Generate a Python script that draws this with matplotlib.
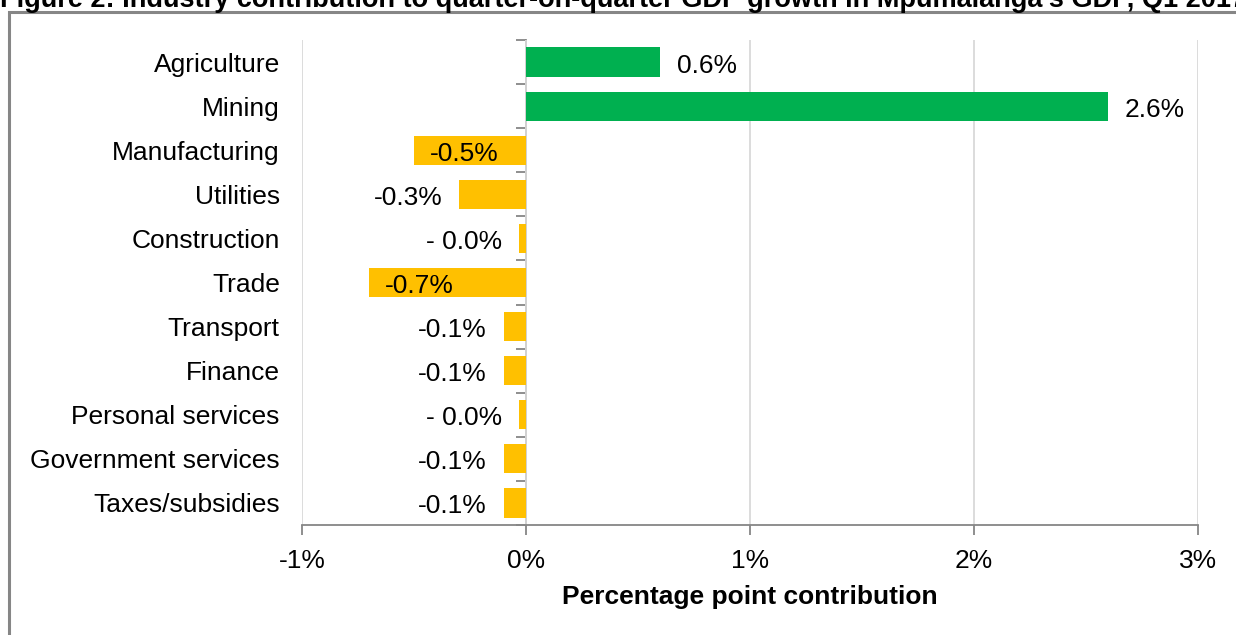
import matplotlib.pyplot as plt
import numpy as np
from matplotlib.patches import Rectangle
from matplotlib.ticker import FuncFormatter

plt.rcParams['font.family'] = ['Liberation Sans', 'DejaVu Sans']

# Data
industries = ["Agriculture", "Mining", "Manufacturing", "Utilities", "Construction",
              "Trade", "Transport", "Finance", "Personal services",
              "Government services", "Taxes/subsidies"]
contribution = [0.6, 2.6, -0.5, -0.3, -0.03, -0.7, -0.1, -0.1, -0.03, -0.1, -0.1]
value_labels = ["0.6%", "2.6%", "-0.5%", "-0.3%", "- 0.0%", "-0.7%",
                "-0.1%", "-0.1%", "- 0.0%", "-0.1%", "-0.1%"]
inside_label = [False, False, True, False, False, True, False, False, False, False, False]

green = '#00B050'
yellow = '#FFC000'
fs = 19

fig = plt.figure(figsize=(12.36, 6.35), dpi=100)
ax = fig.add_axes([302/1236, 1 - 525/635, 896/1236, 485/635])

y = np.arange(len(industries))
colors = [green if v > 0 else yellow for v in contribution]
ax.barh(y, contribution, height=0.66, color=colors, zorder=3)

# data labels (slightly below bar centre, like the original)
for yi, v, lab, inside in zip(y, contribution, value_labels, inside_label):
    if v > 0:
        ax.annotate(lab, (v, yi), xytext=(12, -2.5), textcoords='offset points',
                    ha='left', va='center', fontsize=fs)
    elif inside:
        ax.annotate(lab, (v, yi), xytext=(11.5, -2.5), textcoords='offset points',
                    ha='left', va='center', fontsize=fs)
    else:
        ax.annotate(lab, (v, yi), xytext=(-12, -2.5), textcoords='offset points',
                    ha='right', va='center', fontsize=fs)

ax.set_xlim(-1, 3)
ax.set_ylim(len(industries) - 0.5, -0.5)
ax.set_xticks([-1, 0, 1, 2, 3])
ax.xaxis.set_major_formatter(FuncFormatter(lambda v, p: f"{v:.0f}%"))
ax.grid(axis='x', color='#D9D9D9', linewidth=1.3, zorder=0)

ax.set_yticks(y)
ax.set_yticklabels(industries, fontsize=fs)
ax.tick_params(axis='y', length=0, pad=16)
ax.tick_params(axis='x', labelsize=fs, length=7, width=1.3, color='#868686', pad=10)

for s in ['top', 'right', 'left']:
    ax.spines[s].set_visible(False)
ax.spines['bottom'].set_color('#868686')
ax.spines['bottom'].set_linewidth(1.3)

# vertical axis at 0% with category tick marks
sec = ax.secondary_yaxis(0.25)
sec.set_yticks(np.arange(-0.5, len(industries) + 0.5, 1.0))
sec.set_yticklabels([])
sec.tick_params(length=7, width=1.3, color='#868686')
sec.spines['left'].set_color('#868686')
sec.spines['left'].set_linewidth(1.3)

ax.set_xlabel("Percentage point contribution", fontsize=fs, fontweight='bold', labelpad=9)

# chart frame and clipped title
fig.patches.append(Rectangle((9/1236, -0.1), 1.2, 1 - 12/635 + 0.1, transform=fig.transFigure,
                             fill=False, edgecolor='#868686', linewidth=2.2, zorder=0))
fig.text(0.0, 1 - 7/635, "Figure 2: Industry contribution to quarter-on-quarter GDP growth in Mpumalanga's GDP, Q1 2017",
         fontsize=19.5, fontweight='bold', ha='left', va='baseline')

fig.savefig('out.png', dpi=100)
